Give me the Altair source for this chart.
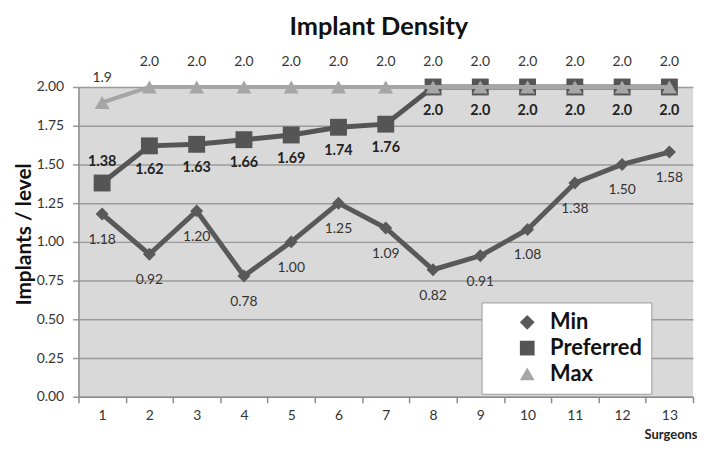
import altair as alt
import pandas as pd

surgeons = list(range(1, 14))
series = ["Min", "Preferred", "Max"]
min_vals = [1.18, 0.92, 1.20, 0.78, 1.00, 1.25, 1.09, 0.82, 0.91, 1.08, 1.38, 1.50, 1.58]
pref_vals = [1.38, 1.62, 1.63, 1.66, 1.69, 1.74, 1.76, 2.0, 2.0, 2.0, 2.0, 2.0, 2.0]
max_vals = [1.9, 2.0, 2.0, 2.0, 2.0, 2.0, 2.0, 2.0, 2.0, 2.0, 2.0, 2.0, 2.0]
min_labels = ["1.18", "0.92", "1.20", "0.78", "1.00", "1.25", "1.09", "0.82", "0.91", "1.08", "1.38", "1.50", "1.58"]
pref_labels = ["1.38", "1.62", "1.63", "1.66", "1.69", "1.74", "1.76", "2.0", "2.0", "2.0", "2.0", "2.0", "2.0"]
max_labels = ["1.9", "2.0", "2.0", "2.0", "2.0", "2.0", "2.0", "2.0", "2.0", "2.0", "2.0", "2.0", "2.0"]
y_ticks = [0.0, 0.25, 0.5, 0.75, 1.0, 1.25, 1.5, 1.75, 2.0]

FONT = "Lato"
colors = ["#595959", "#555555", "#a6a6a6"]
shapes = ["diamond", "square", "triangle-up"]

rows = []
for name, vals, labs in [("Min", min_vals, min_labels), ("Preferred", pref_vals, pref_labels), ("Max", max_vals, max_labels)]:
    for s, v, l in zip(surgeons, vals, labs):
        rows.append({"Surgeon": s, "Series": name, "Value": v, "Label": l})
df = pd.DataFrame(rows)

x_enc = alt.X(
    "Surgeon:O",
    sort=surgeons,
    bandPosition=0.5,
    scale=alt.Scale(type="band", paddingInner=0, paddingOuter=0),
    axis=alt.Axis(
        labelAngle=0, tickBand="extent", tickSize=6, tickColor="#8c8c8c", domainColor="#8c8c8c",
        domainWidth=1.5, tickWidth=1.5,
        labelFontSize=14, labelColor="#333333", labelPadding=6, labelFont=FONT, grid=False,
        title="Surgeons", titleFontSize=13, titleFontWeight="bold", titleFont=FONT,
        titleColor="#222222", titleX=623, titleY=42, titleAlign="right", titleBaseline="alphabetic",
    ),
)
y_enc = alt.Y(
    "Value:Q",
    scale=alt.Scale(domain=[0, 2], nice=False, zero=True),
    axis=alt.Axis(
        values=y_ticks, format=".2f", grid=True, gridColor="#9a9a9a", gridWidth=1.5,
        tickSize=6, tickColor="#9a9a9a", tickWidth=1.5, domainColor="#8c8c8c", domainWidth=1.5,
        labelFontSize=14, labelColor="#333333", labelPadding=9, labelFont=FONT,
        title="Implants / level", titleFontSize=21, titleFontWeight="bold", titleFont=FONT,
        titleColor="#111111", titleX=-54, titleY=148, titleAngle=-90, titleAlign="center",
        titleBaseline="middle",
    ),
)
color_scale = alt.Scale(domain=series, range=colors)
shape_scale = alt.Scale(domain=series, range=shapes)

base = alt.Chart(df)

def series_layers(name, width, size):
    d = base.transform_filter(alt.datum.Series == name)
    line = d.mark_line(strokeWidth=width, color=colors[series.index(name)]).encode(x=x_enc, y=y_enc)
    pts = d.mark_point(filled=True, size=size, opacity=1).encode(
        x=x_enc, y=y_enc,
        color=alt.Color("Series:N", scale=color_scale, legend=alt.Legend(title=None)),
        shape=alt.Shape("Series:N", scale=shape_scale, legend=alt.Legend(title=None)),
    )
    return [line, pts]

layers = []
layers += series_layers("Min", 5, 170)
layers += series_layers("Preferred", 5, 289)
layers += series_layers("Max", 4, 225)

min_text = base.transform_filter(alt.datum.Series == "Min").mark_text(
    dy=26, fontSize=14, font=FONT, color="#333333"
).encode(x=x_enc, y=y_enc, text="Label:N")
pref_text_below = base.transform_filter(
    (alt.datum.Series == "Preferred") & (alt.datum.Surgeon > 1)
).mark_text(dy=24, fontSize=14.5, font=FONT, fontWeight="bold", color="#222222").encode(
    x=x_enc, y=y_enc, text="Label:N")
pref_text_above = base.transform_filter(
    (alt.datum.Series == "Preferred") & (alt.datum.Surgeon == 1)
).mark_text(dy=-21, fontSize=14.5, font=FONT, fontWeight="bold", color="#222222").encode(
    x=x_enc, y=y_enc, text="Label:N")
max_text = base.transform_filter(alt.datum.Series == "Max").mark_text(
    dy=-25, fontSize=14, font=FONT, color="#333333"
).encode(x=x_enc, y=y_enc, text="Label:N")

chart = alt.layer(*layers, min_text, pref_text_below, pref_text_above, max_text).properties(
    width=619,
    height=312,
    autosize=alt.AutoSizeParams(type="none"),
    padding={"left": 71, "top": 78, "right": 4, "bottom": 44},
    title=alt.TitleParams(
        "Implant Density", fontSize=25.5, fontWeight="bold", font=FONT, color="#111111",
        anchor="middle", frame="group", offset=15, dx=-7,
    ),
    background="white",
).configure_view(
    fill="#d9d9d9", stroke=None
).configure_legend(
    orient="none", legendX=406, legendY=217, fillColor="white", strokeColor="#9a9a9a",
    padding=9, symbolOffset=26, labelFontSize=22, labelFontWeight="bold", labelFont=FONT,
    labelColor="#111111", symbolSize=220, rowPadding=4, labelOffset=12,
    symbolStrokeWidth=0,
)

chart.save("out.html", embed_options={"renderer": "svg", "actions": False})
